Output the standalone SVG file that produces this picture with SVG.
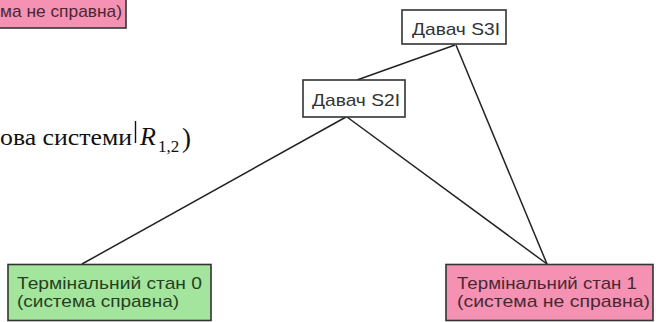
<svg xmlns="http://www.w3.org/2000/svg" width="656" height="322" viewBox="0 0 656 322">
  <style>
    .box { stroke: #333; stroke-width: 1.6; }
    .plain { fill: #fff; }
    .ok { fill: #a4e59e; }
    .bad { fill: #f592b3; }
    .lbl { font-family: "Liberation Sans", Arial, sans-serif; font-size: 17px; fill: #333; }
    .okt { fill: #24401f; }
    .badt { fill: #4a2733; }
    .edge { stroke: #222; stroke-width: 1.5; fill: none; }
    .math { font-family: "Liberation Serif", "DejaVu Serif", serif; font-size: 23px; fill: #111; }
    .var { font-style: italic; font-size: 26px; }
    .sub { font-size: 17px; }
    .paren { font-size: 27px; }
  </style>
  <rect width="656" height="322" fill="#fff"/>

  <!-- connectors -->
  <g id="edges">
    <line class="edge" x1="455" y1="45" x2="357" y2="80"/>
    <line class="edge" x1="456" y1="45" x2="547" y2="264"/>
    <line class="edge" x1="346" y1="117" x2="82" y2="264"/>
    <line class="edge" x1="347" y1="117" x2="547" y2="264"/>
  </g>

  <!-- partial state box at top left -->
  <g id="state-top">
    <rect class="box bad" x="-10" y="-20" width="136" height="48"/>
    <text class="lbl badt" x="122" y="17" text-anchor="end" textLength="122" lengthAdjust="spacingAndGlyphs">ма не справна)</text>
  </g>

  <!-- partial formula -->
  <g id="formula">
    <text class="math" x="0" y="145" textLength="132" lengthAdjust="spacingAndGlyphs">ова системи</text>
    <line x1="135.5" y1="121" x2="135.5" y2="143" stroke="#111" stroke-width="1.4"/>
    <text class="math var" x="140" y="145">R</text>
    <text class="math sub" x="158" y="152">1,2</text>
    <text class="math paren" x="182" y="147">)</text>
  </g>

  <g id="s3i">
    <rect class="box plain" x="402" y="10" width="104" height="34"/>
    <text class="lbl" x="456" y="35" text-anchor="middle" textLength="88" lengthAdjust="spacingAndGlyphs">Давач S3I</text>
  </g>

  <g id="s2i">
    <rect class="box plain" x="303" y="80" width="102" height="37"/>
    <text class="lbl" x="356" y="106" text-anchor="middle" textLength="88" lengthAdjust="spacingAndGlyphs">Давач S2I</text>
  </g>

  <g id="term0">
    <rect class="box ok" x="8" y="264.5" width="203" height="56"/>
    <text class="lbl okt" x="17" y="289" textLength="185" lengthAdjust="spacingAndGlyphs">Термінальний стан 0</text>
    <text class="lbl okt" x="17" y="307" textLength="162" lengthAdjust="spacingAndGlyphs">(система справна)</text>
  </g>

  <g id="term1">
    <rect class="box bad" x="446" y="264.5" width="207" height="56"/>
    <text class="lbl badt" x="457" y="289" textLength="180" lengthAdjust="spacingAndGlyphs">Термінальний стан 1</text>
    <text class="lbl badt" x="457" y="307" textLength="193" lengthAdjust="spacingAndGlyphs">(система не справна)</text>
  </g>
</svg>
